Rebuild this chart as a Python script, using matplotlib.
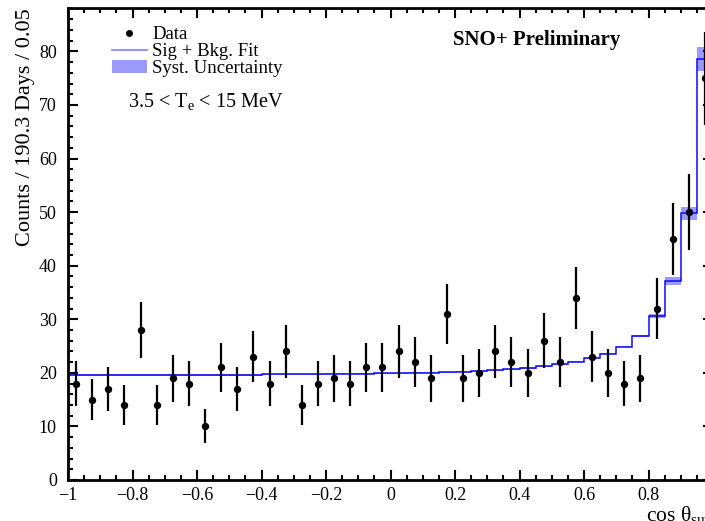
import matplotlib
matplotlib.use('Agg')
import matplotlib.pyplot as plt
import numpy as np
from matplotlib.lines import Line2D
from matplotlib.patches import Patch
from matplotlib.ticker import MultipleLocator

plt.rcParams['font.family'] = ['Liberation Serif', 'DejaVu Serif']
plt.rcParams['mathtext.fontset'] = 'custom'
plt.rcParams['mathtext.rm'] = 'Liberation Serif'
plt.rcParams['mathtext.it'] = 'Liberation Serif:italic'

# bin edges of cos(theta_sun), 40 bins of 0.05
edges = np.linspace(-1, 1, 41)
centers = 0.5 * (edges[:-1] + edges[1:])

# observed counts per bin
counts = np.array([18, 15, 17, 14, 28, 14, 19, 18, 10, 21,
                   17, 23, 18, 24, 14, 18, 19, 18, 21, 21,
                   24, 22, 19, 31, 19, 20, 24, 22, 20, 26,
                   22, 34, 23, 20, 18, 19, 32, 45, 50, 75])
# poisson errors
errs = np.sqrt(counts)

# fitted sig + bkg prediction per bin
fit = np.array([19.6, 19.6, 19.6, 19.6, 19.6, 19.6, 19.6, 19.6, 19.6, 19.6,
                19.6, 19.6, 19.7, 19.7, 19.7, 19.7, 19.8, 19.8, 19.8, 19.9,
                19.9, 20.0, 20.0, 20.1, 20.2, 20.3, 20.5, 20.7, 20.9, 21.2,
                21.6, 22.1, 22.7, 23.6, 24.9, 26.9, 30.6, 37.1, 49.8, 78.6])
# systematic band half width
syst = np.array([0.1] * 35 + [0.2, 0.35, 0.7, 1.2, 2.3])

fig = plt.figure(figsize=(7.05, 5.21), dpi=100)
ax = fig.add_axes([68 / 705, 41 / 521, 645 / 705, 472 / 521])

ax.stairs(fit + syst, edges, baseline=fit - syst, fill=True,
          color='#9a9aff', lw=0)
ax.stairs(fit, edges, baseline=None, color='#0a0aff', lw=1.1)
ax.errorbar(centers, counts, yerr=errs, fmt='o', color='black',
            ms=4.3, elinewidth=1.6, capsize=0)

ax.set_xlim(-1, 1)
ax.set_ylim(0, 88.1)
ax.xaxis.set_major_locator(MultipleLocator(0.2))
ax.xaxis.set_minor_locator(MultipleLocator(0.05))
ax.yaxis.set_major_locator(MultipleLocator(10))
ax.yaxis.set_minor_locator(MultipleLocator(2))
ax.tick_params(which='both', direction='in', top=True, right=True,
               width=1.5, labelsize=13)
ax.tick_params(which='major', length=7)
ax.tick_params(which='minor', length=3.6)
ax.tick_params(axis='x', pad=5)
ax.tick_params(axis='y', pad=8)


def xfmt(v, p):
    # the last label sits past the picture's edge, leave it out
    if v > 0.99:
        return ''
    return ('%g' % round(v, 2)).replace('-', '\u2212')


ax.xaxis.set_major_formatter(matplotlib.ticker.FuncFormatter(xfmt))
for s in ax.spines.values():
    s.set_linewidth(2)

ax.set_ylabel('Counts / 190.3 Days / 0.05', fontsize=16, loc='top', labelpad=3)
ax.set_xlabel(r'cos $\mathrm{\theta}_{\rm sun}$', fontsize=15.5, loc='right', labelpad=0)

handles = [Line2D([], [], marker='o', color='black', ls='none', ms=4),
           Line2D([], [], color='#8080ff', lw=1.2),
           Patch(facecolor='#9a9aff', edgecolor='none')]
labels = ['Data', 'Sig + Bkg. Fit', 'Syst. Uncertainty']
fig.legend(handles, labels, loc='upper left',
           bbox_to_anchor=(112 / 705, 1 - 26 / 521), frameon=False,
           fontsize=13.5, handlelength=1.85, handletextpad=0.3,
           labelspacing=0.0, borderpad=0, borderaxespad=0)

fig.text(128 / 705, 1 - 102 / 521, r'3.5 < T$_{\rm e}$ < 15 MeV',
         fontsize=14.5, va='center', ha='left')
fig.text(453 / 705, 1 - 40 / 521, 'SNO+ Preliminary', fontsize=15,
         fontweight='bold', va='center', ha='left')

fig.savefig('out.png', dpi=100)
